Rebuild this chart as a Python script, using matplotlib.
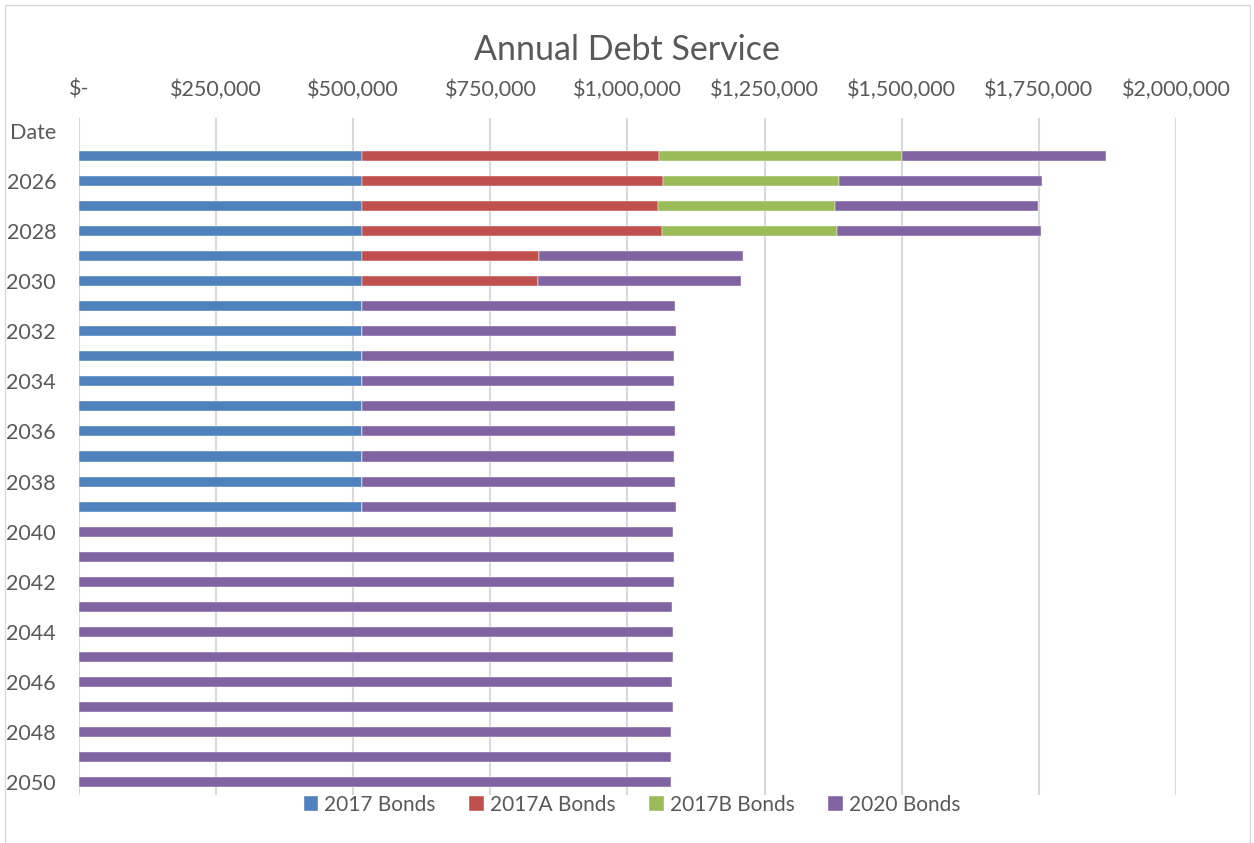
import numpy as np
import matplotlib.pyplot as plt
from matplotlib.patches import Rectangle

plt.rcParams['font.family'] = ['Lato', 'DejaVu Sans']

years = [str(y) for y in range(2025, 2051)]
cats = ['Date'] + years

bonds_2017 = [516000] * 15 + [0] * 11
bonds_2017a = [541000, 548000, 540000, 546000, 323000, 320000] + [0] * 20
bonds_2017b = [443600, 322000, 322000, 320000] + [0] * 22
bonds_2020 = [371000, 370000, 370000, 371000, 371000, 371000,
              571200, 573000, 568800, 569400, 570000, 570600, 569400, 570600, 573000,
              1082400, 1084200, 1085400, 1081800, 1082400, 1082400,
              1080500, 1083600, 1079300, 1079900, 1079900]

series = [('2017 Bonds', bonds_2017, '#4f81bd'),
          ('2017A Bonds', bonds_2017a, '#c0504d'),
          ('2017B Bonds', bonds_2017b, '#9bbb59'),
          ('2020 Bonds', bonds_2020, '#8064a2')]

xticks = [0, 250000, 500000, 750000, 1000000, 1250000, 1500000, 1750000, 2000000]
xlabels = ['$-', '$250,000', '$500,000', '$750,000', '$1,000,000',
           '$1,250,000', '$1,500,000', '$1,750,000', '$2,000,000']

grey = '#595959'

fig = plt.figure(figsize=(12.54, 8.43), dpi=100)
ax = fig.add_axes([79 / 1254, 1 - 795 / 843, (1176 - 79) / 1254, (795 - 118) / 843])

pos = np.arange(1, len(cats))
left = np.zeros(len(years))
for name, vals, col in series:
    vals = np.array(vals, dtype=float)
    ax.barh(pos, vals, left=left, height=0.4, color=col, label=name,
            edgecolor='white', linewidth=0.3, zorder=3)
    left += vals

ax.set_xlim(0, 2000000)
ax.set_ylim(len(cats) - 0.5, -0.5)
ax.set_yticks(np.arange(0, len(cats), 2))
ax.set_yticklabels(cats[::2])
ax.set_xticks(xticks)
ax.set_xticklabels(xlabels)
ax.xaxis.tick_top()
ax.tick_params(axis='both', length=0, colors=grey, labelsize=15.5)
ax.tick_params(axis='x', pad=13)
ax.tick_params(axis='y', pad=16.5)
ax.grid(axis='x', color='#d9d9d9', linewidth=1.5, zorder=0)
for s in ax.spines.values():
    s.set_visible(False)

fig.text(0.5, 1 - 50 / 843, 'Annual Debt Service', ha='center', va='center',
         fontsize=24.5, color=grey)

fig.legend(loc='center', bbox_to_anchor=(632 / 1254, 1 - 805 / 843), ncol=4,
           frameon=False, fontsize=15, labelcolor=grey, handlelength=0.7,
           handleheight=0.7, handletextpad=0.3, columnspacing=1.6)

fig.patches.append(Rectangle((5 / 1254, 0), 1245 / 1254, 838 / 843, transform=fig.transFigure,
                             fill=False, edgecolor='#d9d9d9', linewidth=1))

fig.savefig('out.png', dpi=100)
